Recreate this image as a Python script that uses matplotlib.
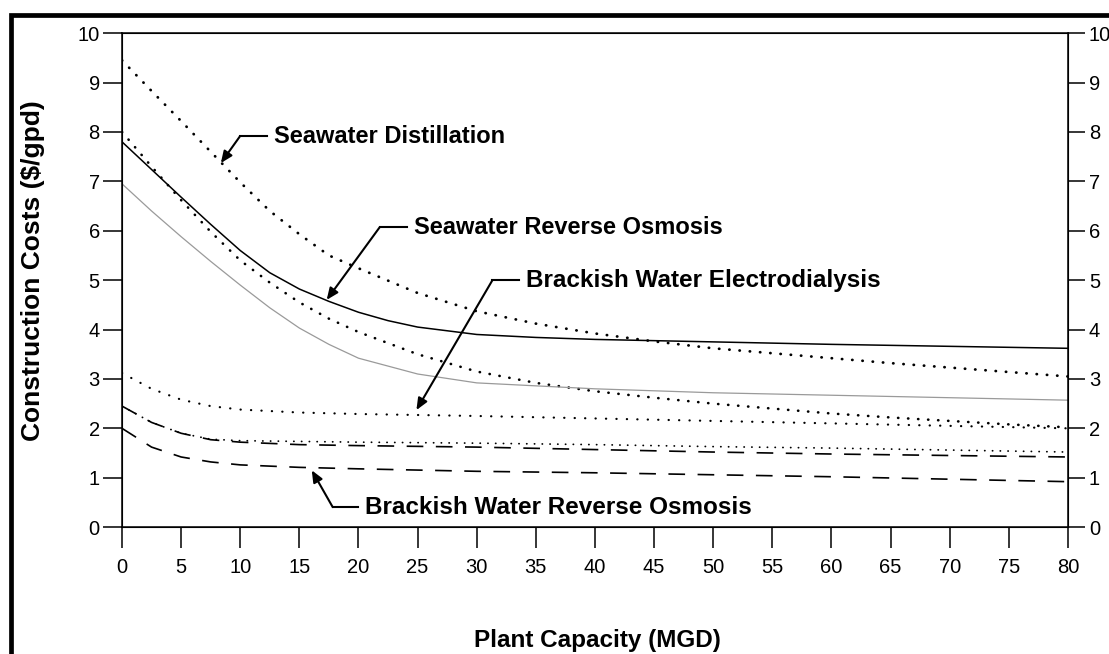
import matplotlib.pyplot as plt
from matplotlib.patches import Rectangle

plt.rcParams['font.family'] = ['Liberation Sans', 'DejaVu Sans']

# Curves (x = plant capacity in MGD, y = $/gpd)
sd_x = [0, 2.5, 5, 7.5, 10, 12.5, 15, 17.5, 20, 25, 30, 35, 40, 45, 50, 55, 60, 65, 70, 75, 80]
sd_y = [9.45, 8.83, 8.22, 7.6, 6.98, 6.4, 5.93, 5.5, 5.24, 4.74, 4.37, 4.12, 3.92, 3.76,
        3.62, 3.52, 3.42, 3.32, 3.23, 3.14, 3.05]

swro_x = [0, 2.5, 5, 7.5, 10, 12.5, 15, 17.5, 20, 22.5, 25, 30, 35, 40, 50, 60, 70, 80]
swro_y = [7.8, 7.24, 6.68, 6.13, 5.6, 5.15, 4.82, 4.57, 4.35, 4.18, 4.05, 3.9, 3.84, 3.8,
          3.75, 3.7, 3.66, 3.62]

dot2_x = [0, 2.5, 5, 7.5, 10, 12.5, 15, 17.5, 20, 25, 30, 35, 40, 45, 50, 55, 60, 65, 70, 75, 80]
dot2_y = [8.0, 7.3, 6.62, 5.98, 5.4, 4.95, 4.55, 4.22, 3.95, 3.5, 3.15, 2.92, 2.75, 2.62,
          2.5, 2.4, 2.3, 2.22, 2.15, 2.08, 2.02]

gray_x = [0, 2.5, 5, 7.5, 10, 12.5, 15, 17.5, 20, 25, 30, 40, 50, 60, 70, 80]
gray_y = [6.95, 6.4, 5.88, 5.38, 4.9, 4.44, 4.03, 3.7, 3.42, 3.1, 2.92, 2.8, 2.72, 2.67,
          2.62, 2.57]

bwed_x = [0, 2.5, 5, 7.5, 10, 15, 20, 25, 30, 40, 50, 60, 70, 80]
bwed_y = [3.12, 2.8, 2.58, 2.45, 2.38, 2.32, 2.29, 2.27, 2.25, 2.2, 2.15, 2.1, 2.05, 2.0]

dash1_x = [0, 2.5, 5, 7.5, 10, 15, 20, 30, 40, 50, 60, 70, 80]
dash1_y = [2.45, 2.12, 1.9, 1.77, 1.72, 1.67, 1.65, 1.62, 1.57, 1.52, 1.48, 1.45, 1.42]

fine_x = [0, 2.5, 5, 7.5, 10, 20, 30, 40, 50, 60, 70, 80]
fine_y = [2.45, 2.12, 1.9, 1.78, 1.75, 1.72, 1.7, 1.67, 1.63, 1.6, 1.56, 1.52]

bwro_x = [0, 2.5, 5, 7.5, 10, 15, 20, 30, 40, 50, 60, 70, 80]
bwro_y = [2.0, 1.62, 1.42, 1.32, 1.26, 1.21, 1.18, 1.13, 1.1, 1.06, 1.02, 0.97, 0.92]

x_ticks = list(range(0, 81, 5))
y_ticks = list(range(0, 11))

fig = plt.figure(figsize=(11.09, 6.54), dpi=100)
ax = fig.add_axes([0.110, 0.194, 0.853, 0.7553])

ax.plot(sd_x, sd_y, color='black', lw=2.0, linestyle=(0, (0.1, 3.6)), dash_capstyle='round')
ax.plot(dot2_x, dot2_y, color='black', lw=1.9, linestyle=(0, (0.1, 3.7)), dash_capstyle='round')
ax.plot(swro_x, swro_y, color='black', lw=1.1)
ax.plot(gray_x, gray_y, color='#9a9a9a', lw=0.9)
ax.plot(bwed_x, bwed_y, color='black', lw=1.6, linestyle=(0, (0.1, 4.6)), dash_capstyle='round')
ax.plot(fine_x, fine_y, color='black', lw=1.3, linestyle=(0, (0.1, 4.2)), dash_capstyle='round')
ax.plot(dash1_x, dash1_y, color='black', lw=1.2, linestyle=(0, (10, 7.5)))
ax.plot(bwro_x, bwro_y, color='black', lw=1.2, linestyle=(0, (10, 7.5)))

ax.set_xlim(0, 80)
ax.set_ylim(0, 10)
ax.set_xticks(x_ticks)
ax.set_yticks(y_ticks)
for s in ax.spines.values():
    s.set_linewidth(1.1)
ax.tick_params(axis='x', direction='out', length=15, width=1.1, pad=7, labelsize=14.5)
ax.tick_params(axis='y', direction='out', length=14, width=1.1, pad=2, labelsize=14.5)

ax2 = ax.twinx()
ax2.set_ylim(0, 10)
ax2.set_yticks(y_ticks)
ax2.tick_params(axis='y', direction='out', length=12, width=1.1, pad=3, labelsize=14.5)

ax.set_xlabel('Plant Capacity (MGD)', fontsize=17.5, fontweight='bold', va='center')
ax.xaxis.set_label_coords(0.503, -0.229)
ax.set_ylabel('Construction Costs ($/gpd)', fontsize=19, fontweight='bold', va='center')
ax.yaxis.set_label_coords(-0.094, 0.52)

# annotations: text, elbow point, arrow tip
labels = [
    ('Seawater Distillation', (12.25, 7.91), (9.97, 7.91), (8.36, 7.37), 17),
    ('Seawater Reverse Osmosis', (24.07, 6.07), (21.79, 6.07), (17.31, 4.60), 17),
    ('Brackish Water Electrodialysis', (33.6, 5.0), (31.33, 5.0), (24.9, 2.37), 17.5),
    ('Brackish Water Reverse Osmosis', (19.93, 0.405), (17.82, 0.405), (16.05, 1.15), 17.5),
]
for text, start, elbow, tip, size in labels:
    ax.plot([start[0], elbow[0]], [start[1], elbow[1]], color='black', lw=1.5)
    ax.annotate('', xy=tip, xytext=elbow,
                arrowprops=dict(arrowstyle='-|>,head_length=0.7,head_width=0.3',
                                color='black', lw=1.5, shrinkA=0, shrinkB=0))
    ax.text(start[0] + 0.6, start[1], text, fontsize=size, fontweight='bold',
            va='center', ha='left')

# thick border of the scanned page
fig.patches.append(Rectangle((0.0095, -0.1), 1.2, 1.077, transform=fig.transFigure,
                             fill=False, edgecolor='black', lw=3.4))

fig.savefig('out.png', dpi=100)
